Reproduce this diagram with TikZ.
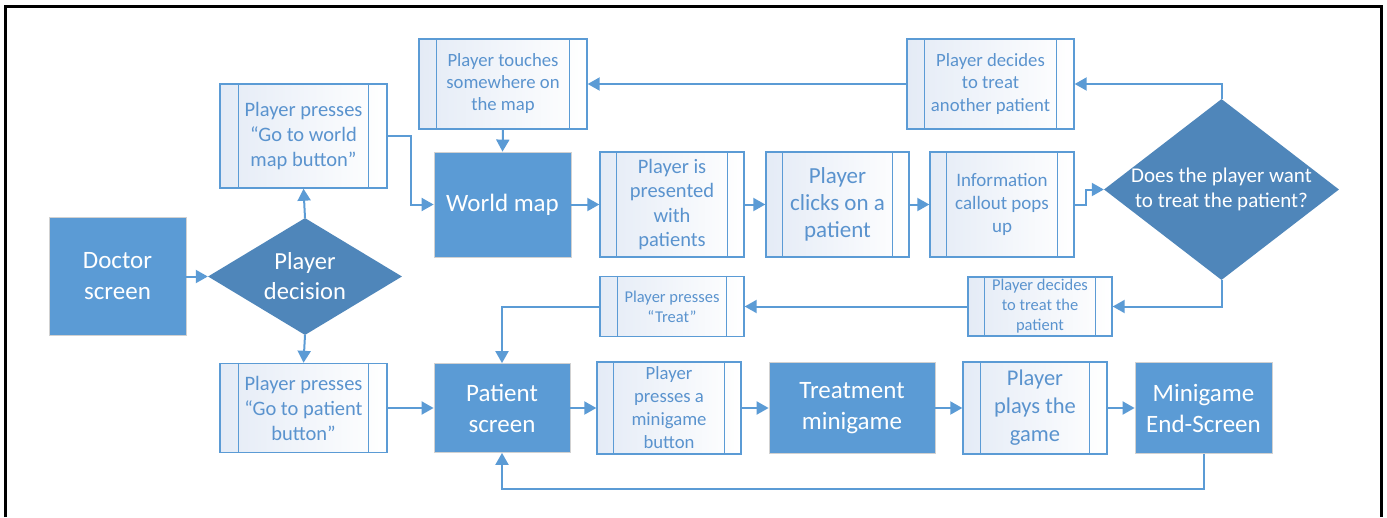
\documentclass[tikz,border=0pt]{standalone}
\usepackage{fontspec}
\setmainfont{Carlito}
\usetikzlibrary{arrows.meta,shapes.geometric,calc}
\definecolor{cb}{HTML}{5B9BD5}
\definecolor{cd}{HTML}{4F86BA}
\definecolor{cl}{HTML}{E4EBF6}
\definecolor{ct}{HTML}{5A93CE}
\newcommand\fs[2]{\fontsize{#1}{#2}\selectfont}
\newcommand\sbands[2]{%
  \draw[subline] ([xshift=#2]#1.north west) -- ([xshift=#2]#1.south west);
  \draw[subline] ([xshift=-#2]#1.north east) -- ([xshift=-#2]#1.south east);}
\tikzset{
  box/.style={fill=cb, draw=black!18, line width=0.8pt, text=white, align=center,
    inner sep=0pt, font=\fs{25}{31}},
  dec/.style={diamond, fill=cd, inner sep=0pt},
  declbl/.style={text=white, align=center, inner sep=0pt},
  sub/.style={draw=cb, line width=1.4pt, left color=cl, middle color=white, right color=white,
    text=ct, align=center, inner sep=0pt},
  subline/.style={draw=cb, line width=1.4pt},
  conn/.style={draw=cb, line width=2pt, -{Triangle[length=12pt,width=13pt]}}
}
\begin{document}
\begin{tikzpicture}[x=1pt,y=-1pt]
\useasboundingbox (0,0) rectangle (1387,517);
\fill[white] (0,0) rectangle (1387,517);
\draw[line width=3pt] (5,517) -- (5,6.5) -- (1381.5,6.5) -- (1381.5,517);

% left column
\node[box, minimum width=137pt, minimum height=118pt] (doc) at (117.5,276.5) {Doctor\\screen};
\node[dec, minimum width=194pt, minimum height=117pt,
  label={[declbl, font=\fs{24.5}{30}]center:{Player\\decision}}] (dec1) at (305,276.5) {};
\node[sub, minimum width=167pt, minimum height=104pt, font=\fs{20.5}{25}] (gw) at (303.5,136) {Player presses\\“Go to world\\map button”};
\node[sub, minimum width=167pt, minimum height=89pt, font=\fs{20.5}{25}] (gp) at (303.5,408) {Player presses\\“Go to patient\\button”};
\sbands{gw}{19pt}
\sbands{gp}{19pt}

% top row
\node[box, minimum width=137pt, minimum height=105pt] (wm) at (502.5,204.5) {World map};
\node[sub, minimum width=168pt, minimum height=90pt, font=\fs{18.7}{22}] (touch) at (503,84) {Player touches\\somewhere on\\the map};
\node[sub, minimum width=144pt, minimum height=105pt, font=\fs{20.5}{24.5}] (pres) at (672,204.5) {Player is\\presented\\with\\patients};
\node[sub, minimum width=143pt, minimum height=105pt, font=\fs{23}{27}] (click) at (837.5,204.5) {Player\\clicks on a\\patient};
\node[sub, minimum width=144pt, minimum height=105pt, font=\fs{19}{23}] (info) at (1002,204.5) {Information\\callout pops\\up};
\node[sub, minimum width=167pt, minimum height=90pt, font=\fs{18.7}{22.5}] (another) at (990.5,84) {Player decides\\to treat\\another patient};
\node[dec, minimum width=235pt, minimum height=181pt,
  label={[declbl, font=\fs{21}{25}]center:{Does the player want\\to treat the patient?}}] (q) at (1221.5,189.5) {};
\sbands{touch}{18pt}
\sbands{pres}{17pt}
\sbands{click}{17pt}
\sbands{info}{17pt}
\sbands{another}{18pt}

% middle row
\node[sub, minimum width=144pt, minimum height=59pt, font=\fs{16.5}{20}] (dtreat) at (1040,306.5) {Player decides\\to treat the\\patient};
\node[sub, minimum width=144pt, minimum height=60pt, font=\fs{16.5}{20}] (ptreat) at (672,306.5) {Player presses\\“Treat”};
\sbands{dtreat}{17pt}
\sbands{ptreat}{18pt}

% bottom row
\node[box, minimum width=136pt, minimum height=89pt] (ps) at (502,408) {Patient\\screen};
\node[sub, minimum width=144pt, minimum height=92pt, font=\fs{18.7}{23}] (mgb) at (669,408) {Player\\presses a\\minigame\\button};
\node[box, minimum width=166pt, minimum height=91pt] (tm) at (852,408) {Treatment\\minigame};
\node[sub, minimum width=144pt, minimum height=92pt, font=\fs{22.5}{28}] (play) at (1035,408) {Player\\plays the\\game};
\node[box, minimum width=137pt, minimum height=91pt] (end) at (1203.5,408) {Minigame\\End-Screen};
\sbands{mgb}{17pt}
\sbands{play}{18pt}

% connectors
\draw[conn] (doc.east) -- (dec1.west);
\draw[conn] (dec1.north) -- (gw.south);
\draw[conn] (dec1.south) -- (gp.north);
\draw[conn] (gw.east) -- ++(23,0) |- (wm.west);
\draw[conn] (gp.east) -- (ps.west);
\draw[conn] (touch.south) -- (wm.north);
\draw[conn] (wm.east) -- (pres.west);
\draw[conn] (pres.east) -- (click.west);
\draw[conn] (click.east) -- (info.west);
\draw[conn] (info.east) -- ++(11,0) |- (q.west);
\draw[conn] (q.north) |- (another.east);
\draw[conn] (another.west) -- (touch.east);
\draw[conn] (q.south) |- (dtreat.east);
\draw[conn] (dtreat.west) -- (ptreat.east);
\draw[conn] (ptreat.west) -| (ps.north);
\draw[conn] (ps.east) -- (mgb.west);
\draw[conn] (mgb.east) -- (tm.west);
\draw[conn] (tm.east) -- (play.west);
\draw[conn] (play.east) -- (end.west);
\draw[conn] (end.south) -- ++(0,35.5) -| (ps.south);
\end{tikzpicture}
\end{document}
